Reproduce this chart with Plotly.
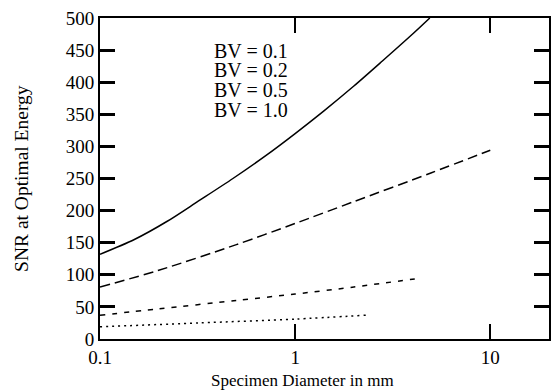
import plotly.graph_objects as go

# ---- data ----
x_bv01 = [0.1, 0.15, 0.22, 0.32, 0.48, 0.71, 1.0, 1.4, 2.0, 2.8, 4.0, 4.9]
y_bv01 = [132, 155, 183, 215, 250, 286, 320, 355, 394, 433, 475, 500]

x_bv02 = [0.1, 0.2, 0.5, 1.0, 2.0, 5.0, 10.0]
y_bv02 = [81, 107, 147, 180, 214, 259, 294]

x_bv05 = [0.1, 0.2, 0.5, 1.0, 2.0, 4.45]
y_bv05 = [37, 47, 60, 70, 81, 95]

x_bv10 = [0.1, 0.32, 1.0, 2.3]
y_bv10 = [19, 25, 31, 37]

series_labels = ["BV = 0.1", "BV = 0.2", "BV = 0.5", "BV = 1.0"]
dashes = ["solid", "10px,5px", "5px,7px", "2px,4px"]

x_tickvals = [0.1, 1, 10]
x_ticktext = ["0.1", "1", "10"]
y_tickvals = list(range(0, 501, 50))

FONT = "Liberation Serif"
XRANGE = [-1, 1.301]

fig = go.Figure()
for xs, ys, d, name in zip([x_bv01, x_bv02, x_bv05, x_bv10],
                           [y_bv01, y_bv02, y_bv05, y_bv10], dashes, series_labels):
    fig.add_trace(go.Scatter(x=xs, y=ys, mode="lines", name=name,
                             line=dict(color="black", width=1.5, dash=d, shape="spline", smoothing=0.8),
                             showlegend=False))

# legend text only (diagnostic: no shapes this run)
row_y = [0.897, 0.838, 0.776, 0.713]
for lbl, ry in zip(series_labels, row_y):
    fig.add_annotation(x=0.249, y=ry, xref="paper", yref="paper", text=lbl, showarrow=False,
                       xanchor="left", yanchor="middle", font=dict(family=FONT, size=20, color="black"))

fig.add_annotation(x=(302 - 100) / 449, y=-0.128, xref="paper", yref="paper",
                   text="Specimen Diameter in mm", showarrow=False, xanchor="center", yanchor="middle",
                   font=dict(family=FONT, size=17, color="black"))
fig.add_annotation(x=-0.175, y=0.5, xref="paper", yref="paper", textangle=-90,
                   text="SNR at Optimal Energy", showarrow=False, xanchor="center", yanchor="middle",
                   font=dict(family=FONT, size=19.5, color="black"))

fig.update_layout(
    template="none", width=553, height=391, margin=dict(l=100, r=4, t=18, b=52),
    plot_bgcolor="white", paper_bgcolor="white", showlegend=False,
    xaxis=dict(type="log", range=XRANGE, tickvals=x_tickvals, ticktext=x_ticktext,
               ticks="inside", ticklen=15, tickwidth=2, tickcolor="black",
               showline=True, linewidth=2, linecolor="black", mirror="ticks",
               showgrid=False, zeroline=False,
               tickfont=dict(family=FONT, size=19, color="black")),
    yaxis=dict(range=[0, 500], tickvals=y_tickvals,
               ticks="inside", ticklen=15, tickwidth=2.5, tickcolor="black",
               showline=True, linewidth=2, linecolor="black", mirror="ticks",
               showgrid=False, zeroline=False,
               tickfont=dict(family=FONT, size=19, color="black")),
)
fig.write_html("out.html")
